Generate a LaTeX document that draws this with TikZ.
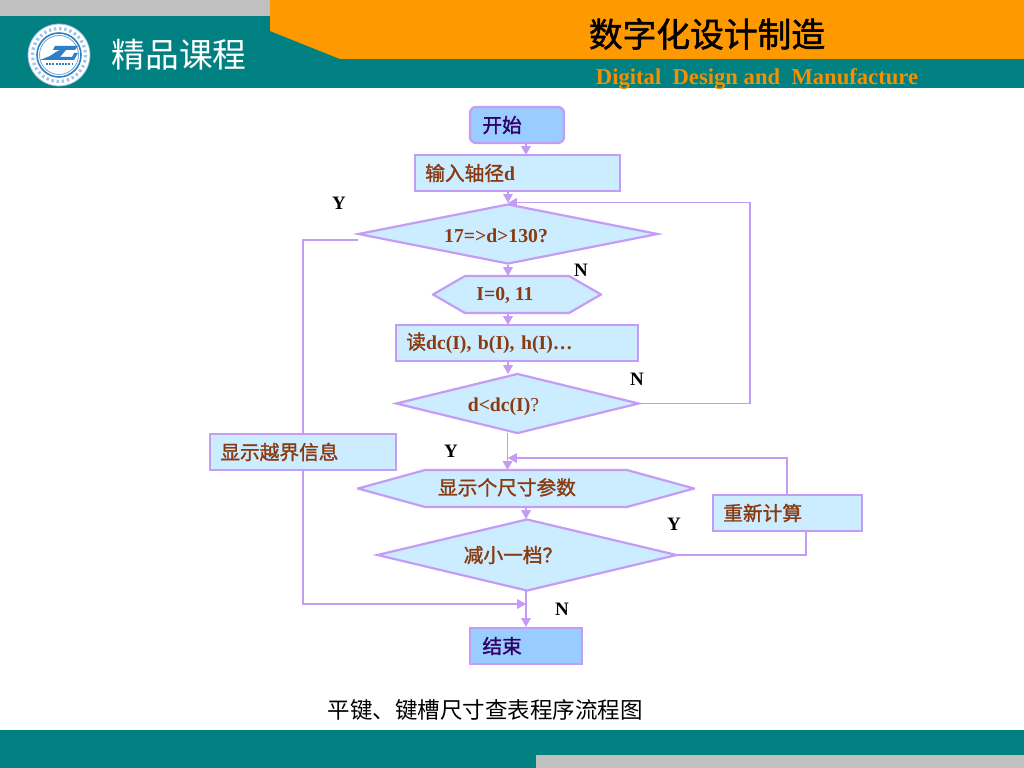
\documentclass[tikz,border=0pt]{standalone}
\usepackage{fontspec}
\setmainfont{Liberation Serif}
\newfontfamily\cjk{Noto Sans CJK SC}
\newfontfamily\cjkfake[FakeBold=1.5]{Noto Sans CJK SC}
\newcommand{\cjkb}{\cjkfake\mdseries}
\newcommand{\hextext}[1]{\raisebox{-0.7ex}[0pt][0pt]{#1}}
\newcommand{\lowtext}[1]{\raisebox{-6pt}[0pt][0pt]{#1}}
\usetikzlibrary{arrows.meta,shapes.geometric,shapes.misc}
\definecolor{teal1}{HTML}{008080}
\definecolor{orange1}{HTML}{FF9900}
\definecolor{gray1}{HTML}{C0C0C0}
\definecolor{edge1}{HTML}{C59CF5}
\definecolor{pale1}{HTML}{CCECFF}
\definecolor{sky1}{HTML}{99CCFF}
\definecolor{brown1}{HTML}{8A3A10}
\definecolor{ink1}{HTML}{330066}
\definecolor{logo1}{HTML}{2F7FC8}
\tikzset{
	shapebase/.style={draw=edge1, line width=0.55mm, fill=pale1, inner sep=0pt, text=brown1, font=\bfseries\fontsize{14}{16}\selectfont},
	procbox/.style={shapebase, rectangle, inner xsep=0.26cm, align=left, minimum height=0.9cm},
	termbox/.style={procbox, inner xsep=0.31cm, fill=sky1, text=ink1},
	decide/.style={shapebase, diamond, aspect=5},
	hexbox/.style={shapebase, chamfered rectangle, chamfered rectangle angle=#1, chamfered rectangle ysep=0.4625cm},
	flow/.style={draw=edge1, line width=0.28mm},
	flowtip/.style={flow, -{Triangle[length=2.2mm,width=2.4mm]}},
	yesno/.style={font=\bfseries\fontsize{13.5}{15}\selectfont, text=black, inner sep=0pt},
}
\begin{document}
\begin{tikzpicture}[x=0.025cm, y=-0.025cm]
	%%%%% HEADER %%%%%
	\useasboundingbox (0, 0) rectangle (1024, 768);
	\fill[white] (0, 0) rectangle (1024, 768);
	\fill[gray1] (0, 0) rectangle (270, 16);
	\fill[teal1] (0, 16) rectangle (1024, 88.5);
	\fill[orange1] (270, 0) -- (1024, 0) -- (1024, 59) -- (340, 59) -- (270, 31) -- cycle;
	
	\fill[white] (59, 55) circle (31);
	\draw[logo1!55, line width=0.2mm] (59, 55) circle (31);
	\draw[logo1!45, line width=0.8mm, dash pattern=on 0.6mm off 0.7mm] (59, 55) circle (26.5);
	\draw[logo1, line width=0.4mm] (59, 55) circle (22);
	\draw[logo1!70, line width=0.2mm] (59, 55) circle (19.5);
	\fill[logo1] (55, 46) -- (78, 46) -- (75, 50) -- (66, 50) -- (60, 57) -- (72, 57) -- (74, 53) -- (78, 53) -- (74, 60) -- (40, 60) -- (50, 56) -- (56, 52) -- (60, 50) -- (53, 50) -- cycle;
	\draw[logo1, line width=0.3mm, dash pattern=on 0.5mm off 0.3mm] (46, 64) -- (72, 64);
	
	\node[font=\cjk\fontsize{24}{26}\selectfont, text=white, inner sep=0pt] (coursename) at (179, 55) {精品课程};
	\node[font=\cjkfake\fontsize{24}{26}\selectfont, text=black, inner sep=0pt] (maintitle) at (707, 34) {数字化设计制造};
	\node[font=\bfseries\fontsize{16.1}{18}\selectfont, text=orange1!90!brown1, inner sep=0pt] (subtitle) at (757, 79) {Digital\ \ Design and\ \ Manufacture};
	
	%%%%% START %%%%%
	\node[termbox, rounded corners=1.5mm, minimum width=2.35cm, text width=1.73cm] (start) at (517, 125) {{\cjkb 开始}};
	\node[procbox, text width=4.61cm] (input) at (517.5, 173) {{\cjkb 输入轴径}d};
	\node[decide, minimum width=7.5cm, minimum height=1.5cm] (sizecheck) at (508, 234) {\lowtext{17=>d>130?\hspace*{0.6cm}}};
	\node[hexbox=60, minimum width=4.2cm, minimum height=0.925cm] (loopvar) at (517, 294.5) {\hextext{I=0, 11\hspace*{0.6cm}}};
	\node[procbox, text width=5.53cm] (readdata) at (517, 343) {{\cjkb 读}dc(I), b(I), h(I)…};
	\node[decide, minimum width=6.08cm, minimum height=1.5cm] (dcheck) at (517.5, 403.5) {\lowtext{d<dc(I){\normalfont ?}\hspace*{0.7cm}}};
	\node[procbox, text width=4.13cm] (limitmsg) at (303, 452) {{\cjkb 显示越界信息}};
	\node[hexbox=74.6, minimum width=8.4cm, minimum height=0.925cm] (showparam) at (526, 488.5) {\hextext{{\cjkb 显示个尺寸参数}\hspace*{0.95cm}}};
	\node[decide, minimum width=7.5cm, minimum height=1.8cm] (reduce) at (527, 555) {{\cjkb 减小一档？}\hspace*{0.7cm}};
	\node[procbox, text width=3.21cm] (recalc) at (787.5, 513) {{\cjkb 重新计算}};
	\node[termbox, text width=2.18cm] (finish) at (526, 646) {{\cjkb 结束}};
	
	\coordinate (backbottom) at (750, 403.5);
	\coordinate (backtop) at (sizecheck.north -| backbottom);
	\coordinate (sizeout) at (358, 240);
	\coordinate (sizecorner) at (303, 240);
	\coordinate (limitcorner) at (303, 604);
	\coordinate (merge) at (526, 604);
	\coordinate (recalctop) at (787, 458);
	\coordinate (recalcin) at (508, 458);
	\coordinate (reducecorner) at (806, 555);
	
	\draw[flowtip] (526, 143) -- (526, 155);
	\draw[flowtip] (508, 191) -- (sizecheck.north);
	\draw[flowtip] (sizecheck.south) -- (508, 276);
	\draw[flowtip] (508, 313) -- (508, 325);
	\draw[flowtip] (508, 361) -- (508, 374);
	\draw[flowtip] (507.5, 433) -- (507.5, 470);
	\draw[flowtip] (showparam.south) -- (526, 519);
	\draw[flowtip] (526, 591) -- (finish.north);
	
	\draw[flowtip] (dcheck.east) -- (backbottom) -- (backtop) -- (sizecheck.north);
	\draw[flow] (sizeout) -- (sizecorner) -- (limitmsg.north);
	\draw[flowtip] (limitmsg.south) -- (limitcorner) -- (merge);
	\draw[flowtip] (787, 495) -- (recalctop) -- (recalcin);
	\draw[flow] (reduce.east) -- (reducecorner) -- (806, 531);
	
	\node[yesno] (yesa) at (339, 203) {Y};
	\node[yesno] (noa) at (581, 270) {N};
	\node[yesno] (nob) at (637, 379) {N};
	\node[yesno] (yesb) at (451, 451) {Y};
	\node[yesno] (yesc) at (674, 524) {Y};
	\node[yesno] (noc) at (562, 609) {N};
	
	\node[font=\cjk\fontsize{16}{18}\selectfont, text=black, inner sep=0pt] (caption) at (485, 710) {平键、键槽尺寸查表程序流程图};
	%%%%% END %%%%%
	
	\fill[teal1] (0, 730) rectangle (1024, 768);
	\fill[gray1] (536, 755) rectangle (1024, 768);
\end{tikzpicture}
\end{document}
